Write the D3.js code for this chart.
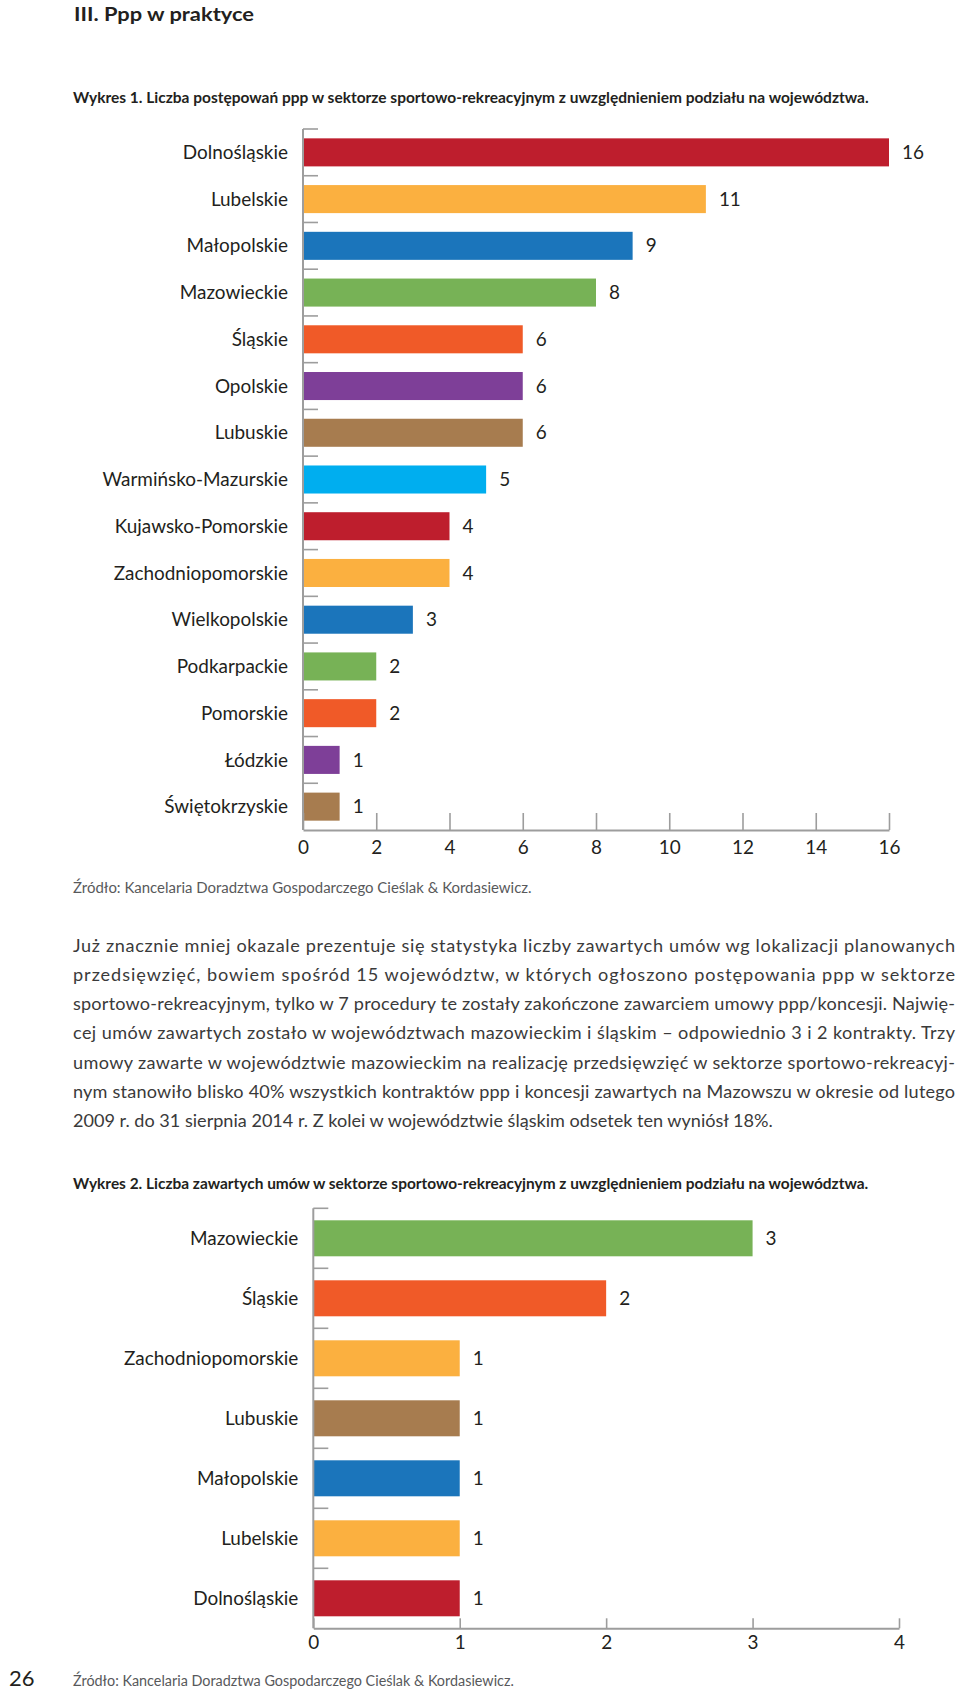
<!DOCTYPE html>
<html><head><meta charset="utf-8">
<script src="https://cdn.jsdelivr.net/npm/d3@7"></script>
<style>body{margin:0;background:#fff}svg{display:block}</style>
</head><body>
<svg id="c" width="960" height="1693"></svg>
<script>
// ---------- DATA ----------
const regions1 = ["Dolnośląskie","Lubelskie","Małopolskie","Mazowieckie","Śląskie","Opolskie","Lubuskie","Warmińsko-Mazurskie","Kujawsko-Pomorskie","Zachodniopomorskie","Wielkopolskie","Podkarpackie","Pomorskie","Łódzkie","Świętokrzyskie"];
const values1 = [16,11,9,8,6,6,6,5,4,4,3,2,2,1,1];
const colors1 = ["#BE1E2D","#FBB040","#1B75BB","#77B256","#F05A28","#7E3F98","#A77C4F","#00AEEF","#BE1E2D","#FBB040","#1B75BB","#77B256","#F05A28","#7E3F98","#A77C4F"];
const xTicks1 = [0,2,4,6,8,10,12,14,16];

const regions2 = ["Mazowieckie","Śląskie","Zachodniopomorskie","Lubuskie","Małopolskie","Lubelskie","Dolnośląskie"];
const values2 = [3,2,1,1,1,1,1];
const colors2 = ["#77B256","#F05A28","#FBB040","#A77C4F","#1B75BB","#FBB040","#BE1E2D"];
const xTicks2 = [0,1,2,3,4];

const titleText = "III. Ppp w praktyce";
const caption1 = "Wykres 1. Liczba postępowań ppp w sektorze sportowo-rekreacyjnym z uwzględnieniem podziału na województwa.";
const caption2 = "Wykres 2. Liczba zawartych umów w sektorze sportowo-rekreacyjnym z uwzględnieniem podziału na województwa.";
const sourceText = "Źródło: Kancelaria Doradztwa Gospodarczego Cieślak & Kordasiewicz.";
const pageNumber = "26";
const paragraph = [
 "Już znacznie mniej okazale prezentuje się statystyka liczby zawartych umów wg lokalizacji planowanych",
 "przedsięwzięć, bowiem spośród 15 województw, w których ogłoszono postępowania ppp w sektorze",
 "sportowo-rekreacyjnym, tylko w 7 procedury te zostały zakończone zawarciem umowy ppp/koncesji. Najwię-",
 "cej umów zawartych zostało w województwach mazowieckim i śląskim – odpowiednio 3 i 2 kontrakty. Trzy",
 "umowy zawarte w województwie mazowieckim na realizację przedsięwzięć w sektorze sportowo-rekreacyj-",
 "nym stanowiło blisko 40% wszystkich kontraktów ppp i koncesji zawartych na Mazowszu w okresie od lutego",
 "2009 r. do 31 sierpnia 2014 r. Z kolei w województwie śląskim odsetek ten wyniósł 18%."
];

// ---------- DRAW ----------
const FONT = "Lato, 'Open Sans', 'DejaVu Sans', sans-serif";
const INK = "#231f20";
const AXIS = "#9d9d9d";
const svg = d3.select("#c");

function fitSize(str, weight, width){
  const t = svg.append("text").attr("font-family",FONT).attr("font-weight",weight).attr("font-size",100).text(str);
  const w = t.node().getComputedTextLength(); t.remove();
  return 100*width/w;
}

const labelSize = fitSize("Warmińsko-Mazurskie", 400, 185.6);

function barChart(cfg){
  const x = d3.scaleLinear().domain([0, cfg.max]).range([cfg.x0, cfg.x1]);
  const y = d3.scaleBand().domain(cfg.cats).range([cfg.yTop, cfg.yBot]).paddingInner(0.4).paddingOuter(0.2);
  const step = y.step();
  const g = svg.append("g");

  g.selectAll("rect.bar").data(cfg.cats).join("rect").attr("class","bar")
    .attr("x", x(0)).attr("y", d => y(d))
    .attr("width", (d,i) => x(cfg.vals[i]) - x(0))
    .attr("height", y.bandwidth())
    .attr("fill", (d,i) => cfg.colors[i]);

  // left axis line + ticks at band boundaries
  g.append("line").attr("x1", x(0)).attr("x2", x(0)).attr("y1", cfg.yTop).attr("y2", cfg.yBot)
    .attr("stroke", AXIS).attr("stroke-width", 2);
  g.selectAll("line.yt").data(cfg.cats).join("line").attr("class","yt")
    .attr("x1", x(0)).attr("x2", x(0)+15)
    .attr("y1", d => y(d) - step*0.2).attr("y2", d => y(d) - step*0.2)
    .attr("stroke", AXIS).attr("stroke-width", 1.6);

  // bottom axis
  const ax = g.append("g").attr("transform", `translate(0,${cfg.yBot})`)
    .call(d3.axisBottom(x).tickValues(cfg.ticks).tickFormat(d3.format("d"))
      .tickSizeInner(-cfg.tickLen).tickSizeOuter(0).tickPadding(cfg.pad));
  ax.select(".domain").attr("stroke", AXIS).attr("stroke-width", 2);
  ax.selectAll(".tick line").attr("stroke", AXIS).attr("stroke-width", 1.6);
  ax.selectAll(".tick text").attr("fill", INK).attr("font-family", FONT).attr("font-size", labelSize);

  // category labels
  g.selectAll("text.cat").data(cfg.cats).join("text").attr("class","cat")
    .attr("x", x(0) - 15).attr("y", d => y(d) + y.bandwidth()/2).attr("dy","0.35em")
    .attr("text-anchor","end").attr("font-family",FONT).attr("font-size",labelSize).attr("fill",INK)
    .text(d => d);

  // value labels
  g.selectAll("text.val").data(cfg.cats).join("text").attr("class","val")
    .attr("x", (d,i) => x(cfg.vals[i]) + 13).attr("y", d => y(d) + y.bandwidth()/2).attr("dy","0.35em")
    .attr("font-family",FONT).attr("font-size",labelSize).attr("fill",INK)
    .text((d,i) => cfg.vals[i]);
}

barChart({cats: regions1, vals: values1, colors: colors1, ticks: xTicks1, max: 16,
  x0: 303, x1: 889, yTop: 129, yBot: 830, tickLen: 17, pad: 10.7});
barChart({cats: regions2, vals: values2, colors: colors2, ticks: xTicks2, max: 4,
  x0: 313.3, x1: 899, yTop: 1208.3, yBot: 1628.3, tickLen: 10, pad: 7.7});

// ---------- TEXT ----------
svg.append("text").attr("x",74).attr("y",21).attr("font-family",FONT).attr("font-weight",700)
  .attr("font-size", 19.5).attr("textLength",180).attr("lengthAdjust","spacingAndGlyphs")
  .attr("fill",INK).text(titleText);

const capSize = fitSize(caption1, 700, 796);
svg.append("text").attr("x",73).attr("y",103).attr("font-family",FONT).attr("font-weight",700)
  .attr("font-size", capSize).attr("fill",INK).text(caption1);
svg.append("text").attr("x",73).attr("y",1189).attr("font-family",FONT).attr("font-weight",700)
  .attr("font-size", fitSize(caption2,700,796)).attr("fill",INK).text(caption2);

svg.append("text").attr("x",73).attr("y",893).attr("font-family",FONT)
  .attr("font-size", fitSize(sourceText,400,459)).attr("fill","#58595b").text(sourceText);
svg.append("text").attr("x",73).attr("y",1686).attr("font-family",FONT)
  .attr("font-size", fitSize(sourceText,400,441)).attr("fill","#58595b").text(sourceText);
svg.append("text").attr("x",9).attr("y",1686).attr("font-family",FONT)
  .attr("font-size", 22).attr("fill",INK).text(pageNumber);

const paraSize = fitSize(paragraph[paragraph.length-1], 400, 700);
svg.append("g").selectAll("text").data(paragraph).join("text")
  .attr("x",73).attr("y",(d,i) => 952 + i*29.15)
  .attr("font-family",FONT).attr("font-size",paraSize).attr("fill","#3a3a3a")
  .each(function(d,i){ if(i < paragraph.length-1){ d3.select(this).attr("textLength",882).attr("lengthAdjust","spacing"); } })
  .text(d => d);
</script>
</body></html>
